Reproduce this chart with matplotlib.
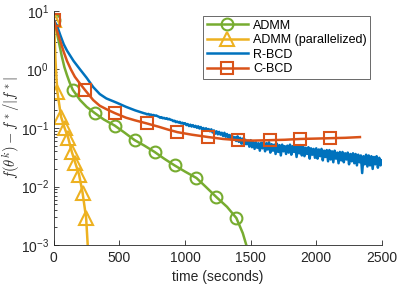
import numpy as np
import matplotlib
matplotlib.use("Agg")
import matplotlib.pyplot as plt
from matplotlib.ticker import LogLocator, NullFormatter

plt.rcParams['font.family'] = ['Liberation Sans', 'DejaVu Sans']
plt.rcParams['mathtext.fontset'] = 'cm'

# ---- data ----
admm_t = [0, 20, 40, 60, 80, 100, 120, 144, 200, 250, 312, 380, 464, 540, 616, 690,
          768, 840, 920, 1000, 1087, 1160, 1239, 1320, 1391, 1440, 1467, 1490]
admm_v = [7.0, 4.5, 2.8, 1.7, 1.1, 0.8, 0.6, 0.45, 0.3, 0.23, 0.18, 0.14, 0.11, 0.083, 0.062, 0.05,
          0.039, 0.03, 0.023, 0.018, 0.014, 0.0098, 0.0066, 0.0045, 0.0029, 0.0016, 0.001, 0.0006]
admm_marks = [0, 7, 10, 12, 14, 16, 18, 20, 22, 24]

par_t = [0, 5, 12, 20, 27, 55, 82, 110, 137, 164, 192, 219, 246, 258, 265]
par_v = [7.0, 4.0, 1.5, 0.7, 0.41, 0.155, 0.10, 0.067, 0.039, 0.025, 0.016, 0.0078, 0.0029, 0.001, 0.0005]
par_marks = [0, 4, 5, 6, 7, 8, 9, 10, 11, 12]

rbcd_t0 = [0, 25, 50, 75, 100, 150, 200, 250, 300, 350, 400, 480, 550, 620, 690]
rbcd_v0 = [7.0, 5.5, 3.8, 2.7, 2.1, 1.4, 1.0, 0.72, 0.5, 0.38, 0.32, 0.27, 0.23, 0.2, 0.178]
rbcd_v1 = [
    0.176, 0.171, 0.174, 0.168, 0.170, 0.165, 0.167, 0.162, 0.164, 0.159,
    0.156, 0.150, 0.153, 0.147, 0.149, 0.144, 0.147, 0.141, 0.143, 0.138,
    0.137, 0.131, 0.133, 0.126, 0.129, 0.124, 0.127, 0.120, 0.123, 0.117,
    0.121, 0.112, 0.117, 0.108, 0.114, 0.106, 0.112, 0.104, 0.109, 0.101,
    0.107, 0.098, 0.104, 0.095, 0.100, 0.093, 0.099, 0.090, 0.096, 0.088,
    0.095, 0.084, 0.091, 0.080, 0.088, 0.078, 0.086, 0.077, 0.083, 0.073,
    0.083, 0.071, 0.079, 0.068, 0.076, 0.064, 0.073, 0.063, 0.070, 0.060,
    0.072, 0.058, 0.068, 0.054, 0.066, 0.051, 0.063, 0.053, 0.061, 0.048,
    0.062, 0.047, 0.058, 0.044, 0.057, 0.046, 0.055, 0.041, 0.056, 0.045,
    0.058, 0.040, 0.055, 0.043, 0.057, 0.038, 0.053, 0.041, 0.052, 0.036,
    0.054, 0.039, 0.051, 0.034, 0.052, 0.040, 0.049, 0.036, 0.050, 0.038,
    0.052, 0.035, 0.049, 0.039, 0.050, 0.032, 0.048, 0.037, 0.051, 0.034,
    0.049, 0.033, 0.046, 0.036, 0.047, 0.030, 0.045, 0.035, 0.044, 0.031,
    0.045, 0.030, 0.043, 0.033, 0.044, 0.028, 0.041, 0.032, 0.042, 0.027,
    0.042, 0.029, 0.040, 0.026, 0.041, 0.030, 0.038, 0.025, 0.039, 0.028,
    0.039, 0.026, 0.037, 0.029, 0.038, 0.024, 0.036, 0.027, 0.037, 0.025,
    0.036, 0.023, 0.035, 0.026, 0.034, 0.017, 0.033, 0.024, 0.035, 0.022,
    0.034, 0.023, 0.033, 0.020, 0.032, 0.024, 0.033, 0.021, 0.031, 0.023,
    0.028]
rbcd_t1 = list(np.arange(700, 2501, 10))
rbcd_t = rbcd_t0 + rbcd_t1
rbcd_v = rbcd_v0 + rbcd_v1

cbcd_t = [0, 25, 50, 75, 100, 130, 160, 200, 236, 300, 350, 400, 464, 550, 620, 707, 800,
          870, 942, 1050, 1178, 1290, 1406, 1520, 1650, 1760, 1877, 2000, 2105, 2220, 2333]
cbcd_v = [7.0, 4.5, 3.0, 2.0, 1.4, 1.0, 0.75, 0.57, 0.45, 0.3, 0.24, 0.21, 0.18, 0.15, 0.135,
          0.12, 0.105, 0.094, 0.085, 0.077, 0.070, 0.065, 0.062, 0.061, 0.062, 0.063, 0.065,
          0.066, 0.067, 0.068, 0.070]
cbcd_marks = [0, 8, 12, 15, 18, 20, 22, 24, 26, 28]

labels = ['ADMM', 'ADMM (parallelized)', 'R-BCD', 'C-BCD']
colors = ['#77AC30', '#EDB120', '#0072BD', '#D95319']

fig = plt.figure(figsize=(3.99, 2.88), dpi=100)
ax = fig.add_axes([0.135, 0.149, 0.822, 0.813])

lw = 1.8
ax.plot(admm_t, admm_v, color=colors[0], lw=lw, marker='o', ms=8.5, mfc='none', mew=1.5,
        markevery=admm_marks, label=labels[0])
ax.plot(par_t, par_v, color=colors[1], lw=lw, marker='^', ms=10, mfc='none', mew=1.5,
        markevery=par_marks, label=labels[1])
ax.plot(rbcd_t, rbcd_v, color=colors[2], lw=lw, label=labels[2])
ax.plot(cbcd_t, cbcd_v, color=colors[3], lw=lw, marker='s', ms=8, mfc='none', mew=1.5,
        markevery=cbcd_marks, label=labels[3])

ax.set_yscale('log')
ax.set_xlim(0, 2500)
ax.set_ylim(1e-3, 1e1)
ax.set_xticks([0, 500, 1000, 1500, 2000, 2500])
ax.yaxis.set_major_locator(LogLocator(base=10, numticks=10))
ax.yaxis.set_minor_locator(LogLocator(base=10, subs=np.arange(2, 10), numticks=100))
ax.yaxis.set_minor_formatter(NullFormatter())

tc = '#262626'
for s in ['top', 'right']:
    ax.spines[s].set_visible(False)
for s in ['left', 'bottom']:
    ax.spines[s].set_color(tc)
    ax.spines[s].set_linewidth(0.6)
ax.tick_params(which='both', direction='in', colors=tc, labelsize=10, width=0.6)
ax.tick_params(which='major', length=3.5)
ax.tick_params(which='minor', length=2)
ax.tick_params(axis='x', which='minor', bottom=False)
ax.tick_params(axis='x', pad=4)

ax.set_xlabel('time (seconds)', fontsize=10, color=tc, labelpad=4)
ax.set_ylabel(r'$f(\theta^k) - f^*/|f^*|$', fontsize=10.5, color=tc)
ax.yaxis.set_label_coords(-0.098, 0.5)

leg = ax.legend(loc='upper left', bbox_to_anchor=(203 / 399, 1 - 16 / 288),
                bbox_transform=fig.transFigure, fontsize=9,
                frameon=True, fancybox=False, edgecolor='#262626', handlelength=3.3,
                borderpad=0.3, labelspacing=0.2, handletextpad=0.4, borderaxespad=0)
leg.get_frame().set_linewidth(0.6)

fig.savefig('out.png', dpi=100)
